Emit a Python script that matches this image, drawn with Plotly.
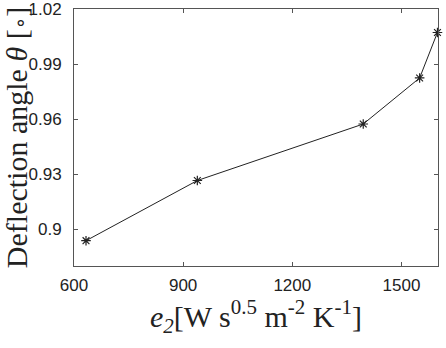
import plotly.graph_objects as go

e2 = [633, 939, 1395, 1550, 1599]
theta = [0.8938, 0.9266, 0.9574, 0.9825, 1.0073]
x_ticks = [600, 900, 1200, 1500]
y_ticks = [0.9, 0.93, 0.96, 0.99, 1.02]
y_tick_labels = ["0.9", "0.93", "0.96", "0.99", "1.02"]

SANS = "Liberation Sans"
SERIF = "Liberation Serif"

fig = go.Figure()
fig.add_trace(go.Scatter(
    x=e2, y=theta, mode="lines+markers", cliponaxis=False,
    line=dict(color="#222222", width=1),
    marker=dict(symbol="asterisk-open", size=8, color="#222222",
                line=dict(width=1.2, color="#222222")),
    showlegend=False,
))

axis_common = dict(
    showgrid=False, zeroline=False, showline=True, linecolor="#555555",
    linewidth=1, mirror="ticks", ticks="inside", ticklen=4,
    tickcolor="#555555", tickwidth=1, automargin=False,
    tickfont=dict(family=SANS, size=17, color="#222222"),
)

fig.update_xaxes(
    range=[600, 1600.5], tickvals=x_ticks, ticklabelstandoff=4,
    title=dict(
        text="<i>e</i><sub><i>2</i></sub>[W s<sup>0.5</sup> m<sup>-2</sup> K<sup>-1</sup>]",
        font=dict(family=SERIF, size=30, color="#222222"),
        standoff=6,
    ),
    **axis_common,
)
fig.update_yaxes(
    range=[0.88, 1.0201], tickvals=y_ticks, ticktext=y_tick_labels, ticklabelstandoff=8,
    title=dict(
        text="Deflection angle <i>θ</i> [<span style='font-family:DejaVu Sans;font-size:20px'>∘</span>]",
        font=dict(family=SERIF, size=30, color="#222222"),
        standoff=6,
    ),
    **axis_common,
)

fig.update_layout(
    width=446, height=348,
    margin=dict(l=74, r=8, t=9, b=82),
    paper_bgcolor="white", plot_bgcolor="white",
)

fig.write_html(
    "out.html",
    config={"displayModeBar": False},
    post_script="document.body.style.margin='0';document.body.style.overflow='hidden';",
)
